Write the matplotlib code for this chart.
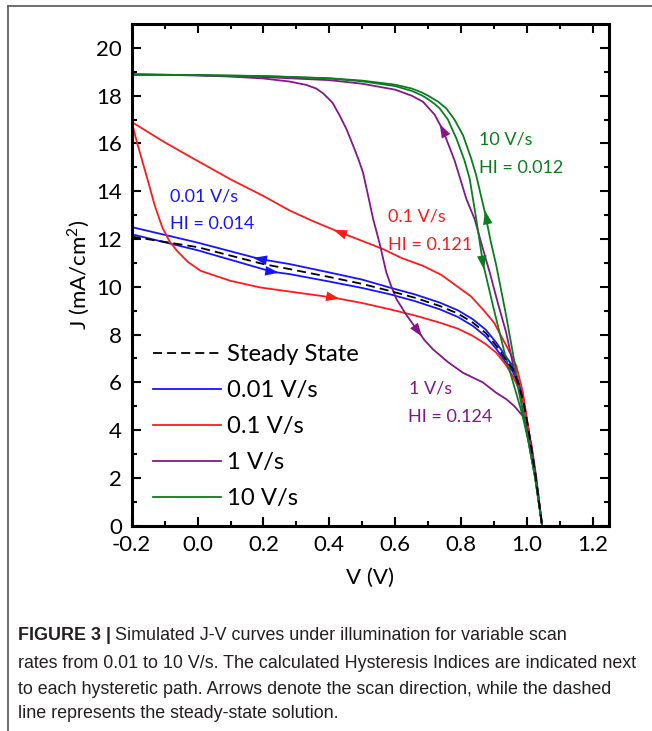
import matplotlib
matplotlib.use("Agg")
import matplotlib.pyplot as plt
from matplotlib import font_manager
from matplotlib.lines import Line2D
import numpy as np

# ---- data (V in volts, J in mA/cm2) ----
ss_v = [-0.2, 0.0, 0.2, 0.28, 0.4, 0.5, 0.583, 0.66, 0.735, 0.79, 0.836, 0.875, 0.907, 0.935, 0.957, 0.975, 0.99, 1.005, 1.025, 1.046]
ss_j = [12.1, 11.66, 10.95, 10.74, 10.41, 10.12, 9.83, 9.54, 9.2, 8.88, 8.5, 8.06, 7.53, 6.97, 6.56, 5.92, 5.15, 4.0, 2.2, 0]

blue_rev_v = [-0.2, 0.0, 0.19, 0.28, 0.4, 0.5, 0.583, 0.66, 0.735, 0.79, 0.836, 0.875, 0.907, 0.935, 0.957, 0.975, 0.99, 1.005, 1.025, 1.046]
blue_rev_j = [12.5, 11.85, 11.16, 10.95, 10.6, 10.3, 9.97, 9.68, 9.34, 9.02, 8.64, 8.2, 7.66, 7.1, 6.68, 6.0, 5.2, 4.0, 2.2, 0]
blue_fwd_v = [-0.2, 0.0, 0.226, 0.28, 0.4, 0.5, 0.583, 0.66, 0.735, 0.79, 0.836, 0.875, 0.907, 0.935, 0.957, 0.975, 0.99, 1.005, 1.025, 1.046]
blue_fwd_j = [12.2, 11.53, 10.63, 10.53, 10.22, 9.95, 9.69, 9.4, 9.06, 8.74, 8.36, 7.92, 7.4, 6.85, 6.45, 5.85, 5.1, 4.0, 2.2, 0]

red_rev_v = [-0.2, -0.1, -0.013, 0.1, 0.2, 0.28, 0.35, 0.432, 0.5, 0.563, 0.62, 0.684, 0.74, 0.786, 0.83, 0.866, 0.9, 0.927, 0.95, 0.968, 0.988, 1.005, 1.025, 1.046]
red_rev_j = [16.9, 16.05, 15.37, 14.5, 13.8, 13.19, 12.75, 12.28, 11.92, 11.58, 11.2, 10.88, 10.5, 10.04, 9.6, 9.06, 8.5, 7.8, 7.2, 6.68, 5.56, 4.0, 2.2, 0]
red_fwd_v = [-0.2, -0.185, -0.17, -0.15, -0.13, -0.107, -0.085, -0.062, -0.03, 0.009, 0.1, 0.191, 0.28, 0.411, 0.5, 0.583, 0.66, 0.735, 0.79, 0.836, 0.875, 0.907, 0.935, 0.957, 0.975, 0.988, 1.005, 1.025, 1.046]
red_fwd_j = [16.9, 16.1, 15.37, 14.4, 13.4, 12.48, 11.9, 11.5, 11.05, 10.67, 10.25, 9.97, 9.8, 9.55, 9.32, 9.06, 8.8, 8.5, 8.25, 7.94, 7.6, 7.24, 6.75, 6.26, 5.75, 5.28, 4.0, 2.2, 0]

purple_rev_v = [-0.2, 0.0, 0.2, 0.4, 0.5, 0.6, 0.65, 0.684, 0.72, 0.745, 0.78, 0.816, 0.841, 0.866, 0.887, 0.912, 0.937, 0.96, 0.985, 1.005, 1.025, 1.046]
purple_rev_j = [18.88, 18.85, 18.78, 18.65, 18.5, 18.25, 18.0, 17.75, 17.2, 16.55, 15.3, 13.68, 12.84, 11.6, 10.6, 9.3, 8.08, 6.6, 5.0, 3.5, 2.0, 0]
purple_fwd_v = [-0.2, -0.1, 0.0, 0.1, 0.2, 0.28, 0.33, 0.36, 0.381, 0.41, 0.432, 0.452, 0.472, 0.488, 0.502, 0.518, 0.533, 0.553, 0.573, 0.59, 0.604, 0.635, 0.669, 0.69, 0.715, 0.76, 0.806, 0.866, 0.907, 0.937, 0.962, 0.988, 1.013, 1.028, 1.046]
purple_fwd_j = [18.9, 18.88, 18.85, 18.8, 18.72, 18.59, 18.45, 18.3, 18.1, 17.7, 17.15, 16.6, 15.92, 15.35, 14.8, 13.8, 12.84, 11.8, 10.6, 9.95, 9.48, 8.8, 8.15, 7.75, 7.38, 6.85, 6.4, 6.0, 5.56, 5.3, 5.0, 4.58, 3.46, 2.06, 0]

green_rev_v = [-0.2, 0.0, 0.2, 0.4, 0.5, 0.6, 0.65, 0.68, 0.7, 0.73, 0.755, 0.78, 0.806, 0.83, 0.846, 0.872, 0.89, 0.907, 0.937, 0.957, 0.985, 1.005, 1.025, 1.046]
green_rev_j = [18.88, 18.86, 18.82, 18.73, 18.63, 18.46, 18.3, 18.14, 18.0, 17.75, 17.47, 17.0, 16.34, 15.4, 14.66, 13.13, 11.9, 10.88, 8.78, 7.24, 5.0, 3.5, 2.0, 0]
green_fwd_v = [-0.2, 0.0, 0.2, 0.4, 0.5, 0.6, 0.65, 0.68, 0.7, 0.72, 0.735, 0.76, 0.786, 0.81, 0.826, 0.846, 0.866, 0.897, 0.932, 0.96, 0.985, 1.005, 1.025, 1.046]
green_fwd_j = [18.88, 18.86, 18.82, 18.72, 18.6, 18.4, 18.2, 18.02, 17.85, 17.65, 17.47, 17.0, 16.2, 15.3, 14.53, 12.84, 11.02, 9.2, 7.24, 5.9, 4.7, 3.5, 2.0, 0]

legend_labels = ["Steady State", "0.01 V/s", "0.1 V/s", "1 V/s", "10 V/s"]
hi_labels = ["HI = 0.014", "HI = 0.121", "HI = 0.124", "HI = 0.012"]

# arrow positions (V, J) and scan direction (+1 forward, -1 reverse)
arrows_blue = [(0.19, 11.16, -1), (0.226, 10.63, 1)]
arrows_red = [(0.432, 12.28, -1), (0.411, 9.55, 1)]
arrows_purple = [(0.745, 16.55, -1), (0.669, 8.15, 1)]
arrows_green = [(0.877, 12.9, -1), (0.866, 11.02, 1)]

c_blue = "#1414ff"
c_red = "#ff1a1a"
c_purple = "#84168a"
c_green = "#0a7d1e"

font_main = "Lato"
avail = {f.name for f in font_manager.fontManager.ttflist}
font_cap = "Liberation Sans Narrow" if "Liberation Sans Narrow" in avail else "Liberation Sans"

plt.rcParams["font.family"] = [font_main, "DejaVu Sans"]

fig = plt.figure(figsize=(6.52, 7.31), dpi=100)
ax = fig.add_axes([131.7 / 652, 1 - 525.7 / 731, (609.3 - 131.7) / 652, (525.7 - 24) / 731])

ax.set_xlim(-0.2, 1.25)
ax.set_ylim(0, 21)

lw = 1.3
ax.plot(blue_rev_v, blue_rev_j, color=c_blue, lw=lw)
ax.plot(blue_fwd_v, blue_fwd_j, color=c_blue, lw=lw)
ax.plot(red_rev_v, red_rev_j, color=c_red, lw=lw)
ax.plot(red_fwd_v, red_fwd_j, color=c_red, lw=lw)
ax.plot(purple_rev_v, purple_rev_j, color=c_purple, lw=lw)
ax.plot(purple_fwd_v, purple_fwd_j, color=c_purple, lw=lw)
ax.plot(green_rev_v, green_rev_j, color=c_green, lw=lw)
ax.plot(green_fwd_v, green_fwd_j, color=c_green, lw=lw)
ax.plot(ss_v, ss_j, color="black", lw=lw, linestyle=(0, (5, 2.8)))


def draw_arrows(arrs, rev, fwd, color):
    for v0, j0, sgn in arrs:
        vs, js = fwd if sgn > 0 else rev
        pts = ax.transData.transform(np.column_stack([vs, js]))
        p0 = ax.transData.transform((v0, j0))
        mids = (pts[1:] + pts[:-1]) / 2
        i = int(np.argmin(np.hypot(*(mids - p0).T)))
        d = (pts[i + 1] - pts[i]) * sgn
        d = d / np.hypot(*d)
        tip = ax.transData.inverted().transform(p0 + d * 7)
        ax.annotate("", xy=tip, xytext=(-d[0] * 14, -d[1] * 14), textcoords="offset pixels",
                    arrowprops=dict(arrowstyle="-|>,head_length=0.86,head_width=0.3",
                                    color=color, lw=0, shrinkA=0, shrinkB=0, mutation_scale=11.5))


draw_arrows(arrows_blue, (blue_rev_v, blue_rev_j), (blue_fwd_v, blue_fwd_j), c_blue)
draw_arrows(arrows_red, (red_rev_v, red_rev_j), (red_fwd_v, red_fwd_j), c_red)
draw_arrows(arrows_purple, (purple_rev_v, purple_rev_j), (purple_fwd_v, purple_fwd_j), c_purple)
draw_arrows(arrows_green, (green_rev_v, green_rev_j), (green_fwd_v, green_fwd_j), c_green)

# rate / HI annotations
tfs = 13
ax.text(-0.084, 13.79, legend_labels[1], color=c_blue, fontsize=tfs, va="center")
ax.text(-0.084, 12.63, hi_labels[0], color=c_blue, fontsize=tfs, va="center")
ax.text(0.577, 12.93, legend_labels[2], color=c_red, fontsize=tfs, va="center")
ax.text(0.577, 11.75, hi_labels[1], color=c_red, fontsize=tfs, va="center")
ax.text(0.641, 5.74, legend_labels[3], color=c_purple, fontsize=tfs, va="center")
ax.text(0.638, 4.57, hi_labels[2], color=c_purple, fontsize=tfs, va="center")
ax.text(0.853, 16.16, legend_labels[4], color=c_green, fontsize=tfs, va="center")
ax.text(0.853, 14.99, hi_labels[3], color=c_green, fontsize=tfs, va="center")

ax.set_xticks(np.arange(-0.2, 1.21, 0.2))
ax.set_xticklabels(["-0.2", "0.0", "0.2", "0.4", "0.6", "0.8", "1.0", "1.2"])
ax.set_xticks(np.arange(-0.1, 1.25, 0.2), minor=True)
ax.set_yticks(np.arange(0, 21, 2))
ax.set_yticks(np.arange(1, 21, 2), minor=True)
ax.tick_params(which="both", direction="in", top=True, right=True, width=1.5, labelsize=16, colors="black")
ax.tick_params(which="major", length=6.5, pad=7)
ax.tick_params(which="minor", length=3.8)
for s in ax.spines.values():
    s.set_linewidth(2.2)

ax.set_xlabel("V (V)", fontsize=16, labelpad=9)
ax.set_ylabel("J (mA/cm$^\\mathregular{2}$)", fontsize=16, labelpad=3)

handles = [Line2D([], [], color="black", lw=lw, linestyle=(0, (5, 2.8))),
           Line2D([], [], color=c_blue, lw=lw),
           Line2D([], [], color=c_red, lw=lw),
           Line2D([], [], color=c_purple, lw=lw),
           Line2D([], [], color=c_green, lw=lw)]
ax.legend(handles, legend_labels, loc="upper left", bbox_to_anchor=(0.024, 0.381), frameon=False,
          fontsize=17.2, handlelength=2.85, handletextpad=0.25, labelspacing=0.63, borderaxespad=0)

# figure frame (top and left rules)
fig.add_artist(Line2D([8 / 652, 1], [1 - 6 / 731, 1 - 6 / 731], color="#555555", lw=1.2))
fig.add_artist(Line2D([8 / 652, 8 / 652], [0, 1 - 6 / 731], color="#555555", lw=1.2))

# caption
cap_fs = 12.9
cap_col = "#231f20"
x0 = 18 / 652
ys = [1 - 636 / 731, 1 - 663 / 731, 1 - 689 / 731, 1 - 714 / 731]
bold = fig.text(x0, ys[0], "FIGURE 3 |", fontsize=cap_fs, fontweight="bold", family=font_cap,
                color=cap_col, va="center")
r = fig.canvas.get_renderer()
bb = bold.get_window_extent(r)
fig.text(bb.x1 / fig.bbox.width + 4 / 652, ys[0], "Simulated J-V curves under illumination for variable scan",
         fontsize=cap_fs, family=font_cap, color=cap_col, va="center")
fig.text(x0, ys[1], "rates from 0.01 to 10 V/s. The calculated Hysteresis Indices are indicated next",
         fontsize=cap_fs, family=font_cap, color=cap_col, va="center")
fig.text(x0, ys[2], "to each hysteretic path. Arrows denote the scan direction, while the dashed",
         fontsize=cap_fs, family=font_cap, color=cap_col, va="center")
fig.text(x0, ys[3], "line represents the steady-state solution.",
         fontsize=cap_fs, family=font_cap, color=cap_col, va="center")

fig.savefig("out.png", dpi=100)
